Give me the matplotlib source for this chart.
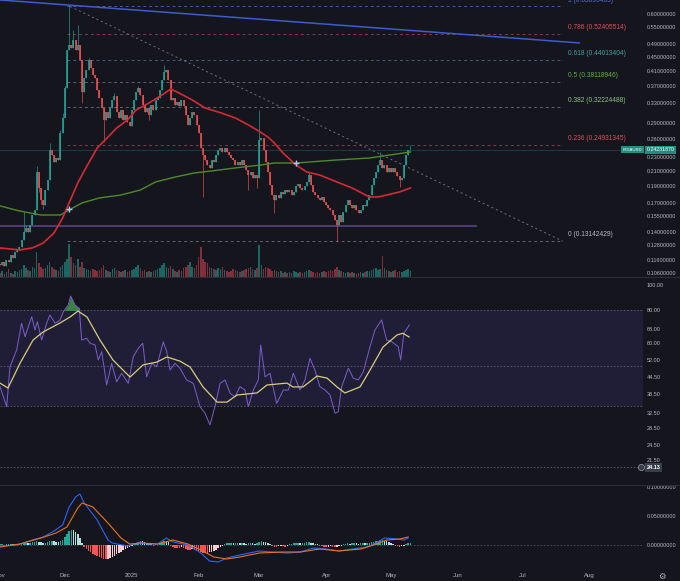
import numpy as np
import pandas as pd
import matplotlib
matplotlib.use("Agg")
import matplotlib.pyplot as plt
from matplotlib.lines import Line2D
from matplotlib.ticker import NullLocator
from matplotlib.transforms import blended_transform_factory

# ---------------- data ----------------
start_date = "2024-11-01"
symbol = "KOIAUSD"
current_price = 0.24231870
first_open = 0.1130

close_prices = [
    0.1121, 0.1144, 0.1114, 0.1159, 0.1144, 0.1198, 0.1175, 0.1223, 0.1239, 0.1264,
    0.1325, 0.1397, 0.1435, 0.1397, 0.1464, 0.1565, 0.1619, 0.2087, 0.1875, 0.1731,
    0.1674, 0.1850, 0.1978, 0.2418, 0.2338, 0.2231, 0.2291, 0.2261, 0.2708, 0.2994,
    0.3658, 0.4717, 0.4877, 0.4780, 0.5043, 0.4717, 0.4877, 0.4412, 0.3562, 0.3912,
    0.4126, 0.4412, 0.4182, 0.3991, 0.3912, 0.3610, 0.3422, 0.3201, 0.2954, 0.3116,
    0.2994, 0.3201, 0.3377, 0.3468, 0.3116, 0.2994, 0.3158, 0.2954, 0.3055, 0.2915,
    0.2838, 0.3158, 0.3377, 0.3562, 0.3658, 0.3491, 0.3266, 0.3116, 0.3201, 0.3055,
    0.3266, 0.3158, 0.3377, 0.3422, 0.3610, 0.3860, 0.4071, 0.4126, 0.3860, 0.3377,
    0.3422, 0.3266, 0.3332, 0.3244, 0.3377, 0.3244, 0.3055, 0.2857, 0.2994, 0.3116,
    0.3055, 0.2857, 0.2708, 0.2450, 0.2338, 0.2261, 0.2187, 0.2144, 0.2261, 0.2231,
    0.2338, 0.2418, 0.2450, 0.2386, 0.2450, 0.2386, 0.2338, 0.2291, 0.2261, 0.2187,
    0.2231, 0.2187, 0.2261, 0.2187, 0.2115, 0.2045, 0.2087, 0.2004, 0.2045, 0.2004,
    0.2585, 0.2620, 0.2418, 0.2231, 0.2087, 0.1913, 0.1789, 0.1731, 0.1789, 0.1754,
    0.1826, 0.1801, 0.1850, 0.1826, 0.1850, 0.1789, 0.1826, 0.1900, 0.1926, 0.1875,
    0.1850, 0.1900, 0.1952, 0.2045, 0.1913, 0.1826, 0.1789, 0.1754, 0.1731, 0.1766,
    0.1708, 0.1674, 0.1641, 0.1619, 0.1565, 0.1514, 0.1464, 0.1565, 0.1494, 0.1597,
    0.1674, 0.1731, 0.1674, 0.1641, 0.1674, 0.1619, 0.1587, 0.1619, 0.1674, 0.1663,
    0.1731, 0.1789, 0.1913, 0.2004, 0.2087, 0.2187, 0.2261, 0.2144, 0.2187, 0.2087,
    0.2144, 0.2087, 0.2144, 0.2087, 0.2031, 0.1978, 0.2004, 0.2187, 0.2338, 0.2418, 0.2423,
]

wick_high_days = [11, 12, 17, 23, 28, 29, 30, 32, 34, 36, 41, 53, 64, 76, 120, 143, 176, 190]
wick_high_vals = [0.1597, 0.1460, 0.2172, 0.2534, 0.2760, 0.3100, 0.3720, 0.63095463, 0.5391,
                  0.5574, 0.4470, 0.3540, 0.3720, 0.4267, 0.3158, 0.2087, 0.2386, 0.2500]
wick_low_days = [18, 19, 20, 38, 48, 69, 94, 115, 119, 127, 156, 185]
wick_low_vals = [0.1830, 0.1680, 0.1630, 0.3310, 0.2551, 0.2954, 0.1766, 0.1850, 0.1875,
                 0.1581, 0.13142429, 0.1888]

volume = [
    4, 6, 3, 5, 8, 4, 3, 6, 5, 7,
    8, 12, 9, 7, 6, 10, 9, 25, 14, 10,
    8, 9, 12, 15, 10, 8, 7, 6, 10, 12,
    15, 18, 33, 20, 14, 12, 18, 10, 15, 9,
    8, 7, 6, 8, 7, 6, 7, 9, 12, 7,
    6, 5, 8, 9, 7, 6, 5, 6, 7, 5,
    6, 7, 8, 10, 12, 9, 6, 7, 5, 6,
    5, 6, 7, 8, 9, 12, 14, 10, 9, 11,
    8, 6, 5, 7, 6, 9, 10, 12, 15, 10,
    9, 12, 20, 30, 18, 15, 14, 10, 9, 8,
    7, 9, 8, 10, 7, 6, 5, 6, 8, 7,
    6, 5, 6, 7, 8, 9, 10, 8, 7, 9,
    32, 12, 8, 10, 9, 8, 6, 7, 6, 5,
    6, 4, 5, 4, 5, 4, 6, 5, 4, 5,
    4, 5, 6, 7, 6, 5, 4, 5, 4, 5,
    6, 5, 6, 7, 6, 8, 10, 7, 6, 5,
    4, 5, 4, 5, 4, 3, 4, 5, 4, 5,
    6, 6, 7, 8, 9, 7, 8, 21, 9, 7,
    6, 5, 6, 7, 5, 6, 5, 6, 7, 8, 6,
]

red_ma_days = [0, 9, 15, 20, 25, 29, 32, 36, 40, 45, 50, 54, 59, 63, 69, 75, 79, 82, 89, 95,
               103, 109, 115, 119, 124, 127, 131, 137, 142, 148, 156, 163, 171, 175, 179, 185, 190]
red_ma_vals = [0.1256, 0.1239, 0.1256, 0.1298, 0.1388, 0.1534, 0.1697, 0.1939, 0.2158, 0.2450,
               0.2637, 0.2800, 0.2954, 0.3158, 0.3310, 0.3491, 0.3633, 0.3562, 0.3377, 0.3201,
               0.3087, 0.2994, 0.2857, 0.2763, 0.2637, 0.2534, 0.2370, 0.2187, 0.2087, 0.2045,
               0.1952, 0.1875, 0.1766, 0.1766, 0.1789, 0.1826, 0.1875]
green_ma_days = [0, 9, 19, 28, 32, 38, 46, 56, 65, 72, 81, 90, 98, 109, 121, 127, 137, 156, 171, 187, 190]
green_ma_vals = [0.1663, 0.1608, 0.1565, 0.1565, 0.1619, 0.1697, 0.1754, 0.1789, 0.1850, 0.1952,
                 0.2017, 0.2073, 0.2101, 0.2144, 0.2187, 0.2216, 0.2216, 0.2261, 0.2291, 0.2370, 0.2386]
cross_days = [32, 137]
cross_vals = [0.1630, 0.2216]

fib_low = 0.13142429
fib_high = 0.63095463
fib_ratios = [1, 0.786, 0.618, 0.5, 0.382, 0.236, 0]
fib_text_colors = ["#5a6fd0", "#e04c5c", "#3aa39a", "#5fae4f", "#8cc084", "#e04c5c", "#b8bac2"]
fib_line_colors = ["#4658b0", "#8a3550", "#3a6478", "#62626f", "#5f6478", "#8a3550", "#62626f"]
fib_start_day = 31
fib_end_day = 260.5
fib_diag_start_day = 32.5

trend_days = [0, 268.5]
trend_prices = [0.659, 0.4943]
support_price = 0.1454
support_end_day = 221

price_ticks = [0.6, 0.55, 0.49, 0.45, 0.41, 0.37, 0.33, 0.29, 0.26, 0.23, 0.21, 0.19,
               0.17, 0.155, 0.14, 0.128, 0.116, 0.106]

rsi_days = [0.0, 3.1, 4.6, 7.7, 10.0, 11.6, 13.1, 14.7, 16.2, 17.3, 19.3, 21.6, 23.1, 25.5, 27.8,
            29.3, 31.6, 32.7, 34.7, 36.7, 37.8, 40.1, 41.7, 44.0, 45.5, 47.1, 49.4, 51.7, 54.0,
            56.3, 59.4, 61.7, 64.0, 66.1, 67.9, 70.2, 72.5, 75.6, 77.2, 78.7, 81.0, 83.3, 86.4,
            89.5, 92.6, 94.9, 97.2, 99.5, 101.9, 104.2, 106.5, 108.8, 111.1, 113.4, 115.0, 117.3,
            119.6, 120.7, 122.7, 125.0, 128.1, 131.2, 133.5, 135.8, 138.9, 141.2, 143.5, 145.8,
            148.1, 150.5, 152.8, 155.1, 156.6, 158.2, 161.3, 163.6, 165.9, 168.2, 171.3, 173.6,
            176.7, 179.0, 181.3, 184.4, 185.5, 187.0, 189.5]
rsi_vals = [41.0, 34.4, 48.8, 56.5, 71.5, 63.5, 69.4, 75.7, 67.4, 72.5, 61.7, 71.5, 76.9, 71.5, 73.6,
            79.1, 83.9, 90.8, 83.9, 81.5, 61.7, 62.7, 60.0, 59.1, 51.8, 55.7, 41.6, 50.3, 42.8,
            46.1, 42.2, 53.3, 57.4, 60.0, 44.7, 50.3, 48.8, 60.8, 55.7, 47.4, 50.3, 48.2, 43.5,
            42.2, 34.4, 32.5, 29.3, 34.4, 42.2, 43.5, 38.7, 37.5, 41.0, 39.8, 34.4, 39.8,
            43.5, 59.1, 44.7, 46.1, 35.4, 39.8, 39.8, 46.1, 39.8, 43.5, 52.6, 47.4,
            41.0, 39.8, 38.1, 32.5, 32.9, 41.0, 48.2, 44.1, 43.5, 46.7, 58.2, 67.4,
            73.6, 61.7, 60.8, 58.2, 51.8, 65.5, 70.4]
rsi_ma_days = [0, 3.7, 9.3, 15.3, 19.9, 27.8, 32.4, 36.1, 40.3, 46.3, 52.3, 60.2, 66.2, 72.7, 77.3,
               83.3, 88.0, 94.0, 100.5, 105.1, 109.7, 119.0, 123.6, 132.9, 135.6, 140.3, 146.8,
               151.4, 156.0, 159.7, 166.7, 171.3, 177.3, 183.8, 186.5, 189.4]
rsi_ma_vals = [42.3, 40.5, 50.4, 61.7, 66.2, 71.7, 75.5, 79.6, 75.5, 61.7, 51.8, 44.6, 49.6, 50.9, 53.2,
               51.3, 48.7, 40.9, 35.8, 35.8, 38.1, 38.8, 41.6, 42.3, 40.9, 40.9, 45.0,
               44.2, 40.9, 38.8, 40.9, 47.4, 58.0, 64.5, 65.5, 63.4]
rsi_levels = [80, 49.3, 34.6]
rsi_extra_level = 20.2
rsi_badge_value = 24.13
rsi_ticks = [100, 80, 68, 60, 52, 44.5, 38.5, 32.5, 28.5, 24.5, 21.5]

macd_days = [0, 8, 15, 20, 25, 29, 32, 35, 37, 39, 45, 50, 52, 59, 65, 68, 73, 77, 80, 87,
             93, 97, 101, 105, 111, 120, 126, 133, 139, 145, 151, 157, 163, 170, 175, 178, 184, 187, 189]
macd_vals = [-0.0017, 0, 0.0086, 0.0138, 0.0241, 0.0345, 0.0655, 0.0828, 0.0879, 0.0724,
             0.0431, 0.0086, 0.0034, -0.0017, 0.0052, 0.0017, 0.0017, 0.0121, 0.0052, 0,
             -0.0138, -0.0276, -0.0293, -0.0224, -0.0172, -0.0103, -0.0121, -0.0138, -0.0121, -0.0052,
             -0.0069, -0.0103, -0.0069, -0.0034, 0.0052, 0.0121, 0.0103, 0.0086, 0.0121]
signal_days = [0, 9, 19, 26, 31, 36, 38, 43, 50, 56, 60, 66, 73, 80, 87, 93, 99, 105, 111, 120,
               130, 139, 148, 157, 167, 173, 179, 185, 189]
signal_vals = [-0.0034, 0.0017, 0.0121, 0.0207, 0.0310, 0.0638, 0.0724, 0.0655, 0.0379, 0.0121,
               0.0017, 0.0034, 0.0017, 0.0086, 0.0017, -0.0086, -0.0207, -0.0241, -0.0207, -0.0138,
               -0.0121, -0.0121, -0.0069, -0.0103, -0.0069, 0, 0.0086, 0.0103, 0.0138]
macd_hist = [
    0.0009, 0.0009, -0.0009, 0.0009, 0.0009, 0.0014, 0.0009, 0.0017, 0.0017, 0.0021,
    0.0034, 0.0043, 0.0043, 0.0034, 0.0043, 0.0052, 0.0060, 0.0069, 0.0060, 0.0052,
    0.0043, 0.0043, 0.0052, 0.0077, 0.0077, 0.0069, 0.0060, 0.0052, 0.0069, 0.0086,
    0.0138, 0.0189, 0.0241, 0.0267, 0.0258, 0.0224, 0.0189, 0.0120, 0.0034, -0.0034,
    -0.0069, -0.0103, -0.0120, -0.0155, -0.0172, -0.0189, -0.0206, -0.0224, -0.0241, -0.0249,
    -0.0241, -0.0224, -0.0206, -0.0189, -0.0163, -0.0138, -0.0112, -0.0086, -0.0069, -0.0052,
    -0.0034, -0.0017, 0.0017, 0.0043, 0.0060, 0.0077, 0.0069, 0.0052, 0.0034, 0.0017,
    0.0009, -0.0009, 0.0009, 0.0017, 0.0043, 0.0060, 0.0077, 0.0069, 0.0052, -0.0017,
    -0.0034, -0.0052, -0.0052, -0.0052, -0.0034, -0.0043, -0.0069, -0.0086, -0.0086, -0.0077,
    -0.0086, -0.0103, -0.0120, -0.0129, -0.0138, -0.0138, -0.0138, -0.0129, -0.0120, -0.0103,
    -0.0086, -0.0060, -0.0034, -0.0009, 0.0017, 0.0026, 0.0026, 0.0034, 0.0026, 0.0034,
    0.0034, 0.0026, 0.0034, 0.0026, 0.0017, 0.0026, 0.0034, 0.0026, 0.0017, 0.0026,
    0.0052, 0.0069, 0.0060, 0.0052, 0.0034, 0.0009, -0.0017, -0.0026, -0.0026, -0.0017,
    -0.0009, -0.0017, -0.0026, -0.0017, 0.0009, 0.0017, 0.0026, 0.0034, 0.0034, 0.0026,
    0.0034, 0.0043, 0.0052, 0.0052, 0.0043, 0.0034, 0.0017, 0.0009, -0.0009, -0.0017,
    -0.0026, -0.0034, -0.0026, -0.0017, -0.0026, -0.0034, -0.0026, -0.0017, -0.0009, 0.0009,
    0.0017, 0.0026, 0.0017, 0.0026, 0.0034, 0.0026, 0.0017, 0.0026, 0.0034, 0.0026,
    0.0034, 0.0043, 0.0052, 0.0060, 0.0069, 0.0077, 0.0086, 0.0086, 0.0077, 0.0069,
    0.0052, 0.0034, 0.0017, -0.0009, -0.0017, -0.0026, -0.0017, -0.0009, 0.0017, 0.0034, 0.0043,
]
macd_ticks = [0.1, 0.05, 0.0]

month_starts = ["2024-11-01", "2024-12-01", "2025-01-01", "2025-02-01", "2025-03-01",
                "2025-04-01", "2025-05-01", "2025-06-01", "2025-07-01", "2025-08-01"]
month_labels = ["Nov", "Dec", "2025", "Feb", "Mar", "Apr", "May", "Jun", "Jul", "Aug"]

# ---------------- style ----------------
plt.rcParams["font.family"] = ["Liberation Sans", "DejaVu Sans"]
W, H = 680, 581
BG = "#15151e"
TXT = "#b4b7c0"
UP = "#26a69a"
DN = "#ef5350"
X_END = 297.7      # visible days
PLOT_W = 643 / W


def pos(top_px, bot_px):
    return [0, 1 - bot_px / H, PLOT_W, (bot_px - top_px) / H]


fig = plt.figure(figsize=(W / 100, H / 100), dpi=100)
fig.patch.set_facecolor(BG)

days = np.arange(len(close_prices))
close = np.array(close_prices)
opn = np.concatenate([[first_open], close[:-1]])
high = np.maximum(opn, close)
low = np.minimum(opn, close)
for d, v in zip(wick_high_days, wick_high_vals):
    high[d] = max(high[d], v)
for d, v in zip(wick_low_days, wick_low_vals):
    low[d] = min(low[d], v)
up = close >= opn
ccol = np.where(up, UP, DN)

# ---- volume (behind the price panel) ----
main_pos = pos(0, 277)
axv = fig.add_axes(main_pos, label="vol")
axv.set_facecolor(BG)
axv.bar(days, volume, width=0.72, color=np.where(up, "#1f6f68", "#8a3540"), alpha=0.9, linewidth=0)
axv.set_ylim(0, max(volume) * 8.4)
axv.set_xlim(0, X_END)
axv.axis("off")

# ---- price panel ----
ax = fig.add_axes(main_pos, label="price")
ax.set_facecolor("none")
ax.set_yscale("log")
ax.set_ylim(0.1034, 0.6589)
ax.set_xlim(0, X_END)

ax.axhline(current_price, color="#2c3a4e", lw=0.6, zorder=1)
ax.hlines(support_price, 0, support_end_day, color="#5b3f8f", lw=1.2, zorder=2)

fib_levels = [fib_low + r * (fib_high - fib_low) for r in fib_ratios]
for r, lv, tc, lc in zip(fib_ratios, fib_levels, fib_text_colors, fib_line_colors):
    ax.hlines(lv, fib_start_day, fib_end_day, colors=lc, lw=0.7, linestyles=(0, (3, 3)), zorder=2)
    ax.annotate(f"{r:g} ({lv:.8f})", xy=(fib_end_day + 2.3, lv), xytext=(0, 4.6),
                textcoords="offset points", ha="left", va="center", fontsize=4.8,
                color=tc, annotation_clip=False)
ax.plot([fib_diag_start_day, fib_end_day], [fib_high, fib_low], color="#6f7280", lw=0.7,
        ls=(0, (2, 3)), zorder=2)
ax.plot(trend_days, trend_prices, color="#3e5bd0", lw=1.1, zorder=3, solid_capstyle="butt")

ax.vlines(days, low, high, colors=ccol, lw=0.45, zorder=4)
ax.vlines(days, np.minimum(opn, close), np.maximum(opn, close), colors=ccol, lw=1.15, zorder=5)

ax.plot(green_ma_days, green_ma_vals, color="#4f8a2c", lw=1.0, zorder=6)
ax.plot(red_ma_days, red_ma_vals, color="#d42a35", lw=1.2, zorder=6)
ax.plot(cross_days, cross_vals, "+", color="#a9c9ec", ms=4, mew=1.0, zorder=7)

ax.yaxis.tick_right()
ax.set_yticks(price_ticks)
ax.set_yticklabels([f"{v:.8f}" for v in price_ticks])
ax.yaxis.set_minor_locator(NullLocator())
ax.tick_params(axis="y", length=0, pad=2.8, labelsize=4, labelcolor=TXT)
ax.set_xticks([])
for s in ax.spines.values():
    s.set_visible(False)

tr = blended_transform_factory(ax.transAxes, ax.transData)
ax.text(0.9837, current_price, symbol, transform=tr, ha="center", va="center", fontsize=3.2,
        color="white", bbox=dict(boxstyle="square,pad=0.3", fc="#1d8f80", ec="none"), zorder=10)
ax.text(1.0055, current_price, f"{current_price:.8f}", transform=tr, ha="left", va="center",
        fontsize=3.8, color="white", bbox=dict(boxstyle="square,pad=0.3", fc="#1d8f80", ec="none"),
        zorder=10, clip_on=False)

# ---- RSI panel ----
axr = fig.add_axes(pos(277, 485), label="rsi")
axr.set_facecolor(BG)
axr.set_yscale("log")
axr.set_ylim(17.3, 107.3)
axr.set_xlim(0, X_END)
axr.axhspan(rsi_levels[2], rsi_levels[0], color="#201e36", lw=0, zorder=0)
for lv in rsi_levels + [rsi_extra_level]:
    axr.axhline(lv, color="#5c5a74", lw=0.6, ls=(0, (2, 2)), zorder=1)
rv = np.array(rsi_vals)
axr.fill_between(rsi_days, rv, 80, where=rv > 80, interpolate=True, color="#3f9a45", alpha=0.85,
                 lw=0, zorder=2)
axr.plot(rsi_days, rsi_vals, color="#7a5fcc", lw=0.7, zorder=3)
axr.plot(rsi_ma_days, rsi_ma_vals, color="#d9cd7c", lw=0.9, zorder=4)
axr.yaxis.tick_right()
axr.set_yticks(rsi_ticks)
axr.set_yticklabels([f"{v:.2f}" for v in rsi_ticks])
axr.yaxis.set_minor_locator(NullLocator())
axr.tick_params(axis="y", length=0, pad=2.8, labelsize=4, labelcolor=TXT)
axr.set_xticks([])
for s in axr.spines.values():
    s.set_visible(False)
trr = blended_transform_factory(axr.transAxes, axr.transData)
axr.text(1.0055, rsi_extra_level, f"{rsi_badge_value:.2f}", transform=trr, ha="left", va="center",
         fontsize=4, color="white", fontweight="bold",
         bbox=dict(boxstyle="square,pad=0.3", fc="#3a3d4a", ec="none"), zorder=10, clip_on=False)
axr.plot([0.9975], [rsi_extra_level], transform=trr, marker="o", ms=4.5, mfc="#3a3d4a",
         mec="#9a9ca6", mew=0.5, clip_on=False, zorder=10)

# ---- MACD panel ----
axm = fig.add_axes(pos(485, 567), label="macd")
axm.set_facecolor(BG)
axm.set_ylim(-0.0379, 0.1034)
axm.set_xlim(0, X_END)
axm.axhline(0, color="#4a4d5c", lw=0.6, ls=(0, (2, 2)), zorder=1)
hist = np.array(macd_hist)
prev = np.concatenate([[0], hist[:-1]])
hcol = np.where(hist >= 0, np.where(hist >= prev, "#26a69a", "#b2dfdb"),
                np.where(hist <= prev, "#ff5252", "#ffcdd2"))
axm.bar(days, hist, width=0.7, color=hcol, lw=0, zorder=2)
axm.plot(macd_days, macd_vals, color="#2962ff", lw=0.8, zorder=3)
axm.plot(signal_days, signal_vals, color="#e8731c", lw=0.8, zorder=3)
axm.yaxis.tick_right()
axm.set_yticks(macd_ticks)
axm.set_yticklabels([f"{v:.8f}" for v in macd_ticks])
axm.tick_params(axis="y", length=0, pad=2.8, labelsize=4, labelcolor=TXT)
t0 = pd.Timestamp(start_date)
axm.set_xticks([(pd.Timestamp(m) - t0).days for m in month_starts])
axm.set_xticklabels(month_labels)
axm.tick_params(axis="x", length=0, pad=4.5, labelsize=4.3, labelcolor=TXT)
for s in axm.spines.values():
    s.set_visible(False)

# ---- separators and icon ----
for ypx in (277, 485):
    fig.add_artist(Line2D([0, 1], [1 - ypx / H, 1 - ypx / H], transform=fig.transFigure,
                          color="#2a2c38", lw=0.8))
fig.text(662 / W, 1 - 576 / H, "\u2699", fontsize=6, color=TXT, ha="center", va="center",
         family=["DejaVu Sans"])

fig.savefig("out.png", dpi=100, facecolor=BG)
